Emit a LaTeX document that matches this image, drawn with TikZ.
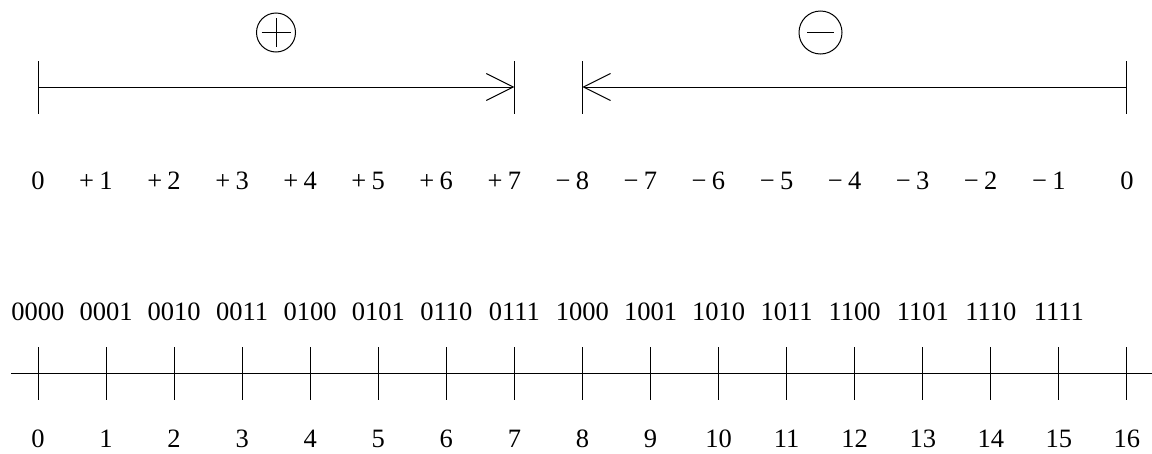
\documentclass[tikz,border=0pt]{standalone}
\usepackage{fontspec}
\setmainfont{Liberation Serif}
\usetikzlibrary{arrows.meta}
\begin{document}
\begin{tikzpicture}[x=1pt, y=-1pt, line width=1pt,
  lbl/.style={anchor=base, inner sep=0pt, font=\fontsize{26.5}{30}\selectfont},
  sgn/.style={circle, draw, inner sep=0pt},
  rng/.style={-{Straight Barb[length=27pt, width=27pt]}},
]
\useasboundingbox (0,0) rectangle (1152,453);

% range ends of the signed interpretation
\coordinate (p0) at (38,87);
\coordinate (p7) at ({38+68.06*7},87);
\coordinate (n8) at ({38+68.06*8},87);
\coordinate (n0) at ({38+68.06*16},87);

\foreach \c in {p0,p7,n8,n0}
  \draw ([yshift=-26.5pt]\c) -- ([yshift=26.5pt]\c);
\draw[rng] (p0) -- (p7);
\draw[rng] (n0) -- (n8);

% sign markers
\node[sgn, minimum size=39pt] (plus) at (276,32.5) {};
\draw (plus.center) ++(-14.5,0) -- ++(29,0);
\draw (plus.center) ++(0,-14.5) -- ++(0,29);
\node[sgn, minimum size=43pt] (minus) at (820.5,32.5) {};
\draw (minus.center) ++(-13.5,0) -- ++(27,0);

% signed values
\foreach \i/\s/\d in {0//0,1/+/1,2/+/2,3/+/3,4/+/4,5/+/5,6/+/6,7/+/7,
                      8/−/8,9/−/7,10/−/6,11/−/5,12/−/4,13/−/3,14/−/2,15/−/1,16//0}
  \node[lbl] (s\i) at ({38+68.06*\i},189) {\llap{\s\hspace{0.2em}}\d};

% bit patterns
\foreach \b [count=\i from 0] in {0000,0001,0010,0011,0100,0101,0110,0111,
                                  1000,1001,1010,1011,1100,1101,1110,1111}
  \node[lbl] (b\i) at ({38+68.06*\i},320) {\b};

% unsigned axis
\coordinate (axl) at (11,373);
\coordinate (axr) at (1152,373);
\draw (axl) -- (axr);
\foreach \i in {0,...,16} {
  \coordinate (t\i) at ({38+68.06*\i},373);
  \draw ([yshift=-26.5pt]t\i) -- ([yshift=26.5pt]t\i);
  \node[lbl] (u\i) at ({38+68.06*\i},447.5) {\i};
}
\end{tikzpicture}
\end{document}
